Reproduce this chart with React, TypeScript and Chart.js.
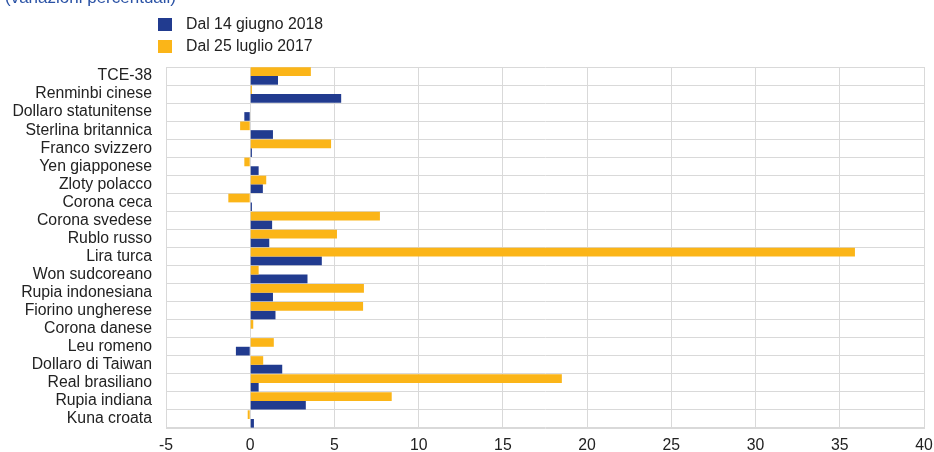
import React, { useEffect, useRef } from "react";
import { Chart, registerables } from "chart.js";

Chart.register(...registerables);

const categories = [
  "TCE-38",
  "Renminbi cinese",
  "Dollaro statunitense",
  "Sterlina britannica",
  "Franco svizzero",
  "Yen giapponese",
  "Zloty polacco",
  "Corona ceca",
  "Corona svedese",
  "Rublo russo",
  "Lira turca",
  "Won sudcoreano",
  "Rupia indonesiana",
  "Fiorino ungherese",
  "Corona danese",
  "Leu romeno",
  "Dollaro di Taiwan",
  "Real brasiliano",
  "Rupia indiana",
  "Kuna croata",
];

const since2017 = [3.6, 0.1, 0, -0.6, 4.8, -0.35, 0.95, -1.3, 7.7, 5.15, 35.9, 0.5, 6.75, 6.7, 0.18, 1.4, 0.77, 18.5, 8.4, -0.15];
const since2018 = [1.65, 5.4, -0.35, 1.35, 0.1, 0.5, 0.75, 0.1, 1.3, 1.13, 4.25, 3.4, 1.35, 1.5, 0, -0.85, 1.9, 0.5, 3.3, 0.22];

const xTicks = [-5, 0, 5, 10, 15, 20, 25, 30, 35, 40];

const label2018 = "Dal 14 giugno 2018";
const label2017 = "Dal 25 luglio 2017";
const BLUE = "#213b8f";
const YELLOW = "#fbb518";
const FONT = "'Liberation Sans', Arial, sans-serif";
const FS = 15.8;

export default function App() {
  const ref = useRef<HTMLCanvasElement | null>(null);

  useEffect(() => {
    if (!ref.current) return;
    Chart.defaults.font.family = FONT;
    const chart = new Chart(ref.current, {
      type: "bar",
      data: {
        labels: categories,
        datasets: [
          { label: label2017, data: since2017, backgroundColor: YELLOW, borderWidth: 0 },
          { label: label2018, data: since2018, backgroundColor: BLUE, borderWidth: 0 },
        ],
      },
      options: {
        indexAxis: "y",
        animation: false,
        responsive: false,
        maintainAspectRatio: false,
        layout: { padding: { top: 67, right: 10, left: 0, bottom: 0 } },
        datasets: { bar: { categoryPercentage: 0.96, barPercentage: 1 } },
        plugins: {
          legend: { display: false },
          tooltip: { enabled: false },
        },
        scales: {
          x: {
            type: "linear",
            min: -5,
            max: 40,
            afterBuildTicks: (s: any) => {
              s.ticks = xTicks.map((v) => ({ value: v }));
            },
            afterFit: (s: any) => {
              s.height = 24;
              s.paddingRight = 0;
              s.paddingLeft = 0;
            },
            ticks: { color: "#222", font: { size: FS, family: FONT }, padding: 8 },
            grid: { color: "#d9d9d9", lineWidth: 1, drawTicks: false },
            border: { color: "#d9d9d9" },
          },
          y: {
            type: "category",
            afterFit: (s: any) => {
              s.width = 166;
              s.paddingTop = 0;
              s.paddingBottom = 0;
            },
            ticks: { color: "#222", font: { size: FS, family: FONT }, padding: 14, autoSkip: false },
            grid: { color: "#d9d9d9", lineWidth: 1, offset: true, drawTicks: false },
            border: { color: "#d9d9d9" },
          },
        },
      },
    });
    return () => chart.destroy();
  }, []);

  const legendItem = (color: string, text: string, top: number) => (
    <div style={{ position: "absolute", left: 158, top, height: 14, display: "flex", alignItems: "center" }}>
      <div style={{ width: 14, height: 13, background: color }} />
      <span style={{ marginLeft: 14, fontFamily: FONT, fontSize: FS, color: "#222", whiteSpace: "nowrap" }}>{text}</span>
    </div>
  );

  return (
    <div style={{ position: "fixed", left: 0, top: 0, width: 934, height: 452, background: "#fff", overflow: "hidden" }}>
      <canvas ref={ref} width={934} height={452} style={{ position: "absolute", left: 0, top: 0, width: 934, height: 452 }} />
      <div style={{ position: "absolute", left: 5, top: -12, fontFamily: FONT, fontSize: 17, color: "#2a52a5", whiteSpace: "nowrap" }}>
        (variazioni percentuali)
      </div>
      {legendItem(BLUE, label2018, 17)}
      {legendItem(YELLOW, label2017, 39)}
    </div>
  );
}
